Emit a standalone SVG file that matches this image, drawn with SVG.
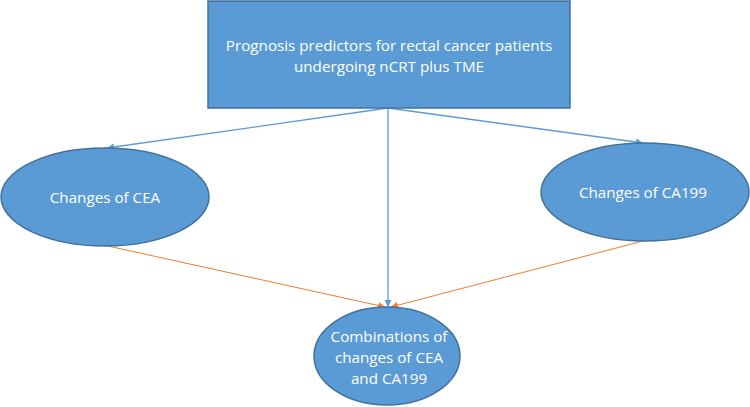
<svg xmlns="http://www.w3.org/2000/svg" width="750" height="407" viewBox="0 0 750 407">
<defs>
<style>
.node{fill:#5B9BD5;stroke:#41719C;stroke-width:1.5}
.t{fill:#fff;font-family:"Open Sans","Liberation Sans",sans-serif;font-size:15.2px;text-anchor:middle}
.b{stroke:#5B9BD5;stroke-width:1.3;fill:none}
.o{stroke:#ED7D31;stroke-width:1;fill:none}
</style>
<marker id="ab" markerWidth="8" markerHeight="8" refX="7" refY="4" orient="auto" markerUnits="userSpaceOnUse"><path d="M0,0.5 L7,4 L0,7.5 Z" fill="#5B9BD5"/></marker>
<marker id="ao" markerWidth="8" markerHeight="8" refX="7" refY="4" orient="auto" markerUnits="userSpaceOnUse"><path d="M0,0.5 L7,4 L0,7.5 Z" fill="#ED7D31"/></marker>
</defs>
<g id="connectors">
<line class="b" x1="388" y1="108" x2="107" y2="148" marker-end="url(#ab)"/>
<line class="b" x1="388" y1="108" x2="388" y2="307" marker-end="url(#ab)"/>
<line class="b" x1="388" y1="108" x2="643" y2="143" marker-end="url(#ab)"/>
<line class="o" x1="108" y1="246" x2="385" y2="307" marker-end="url(#ao)"/>
<line class="o" x1="643" y1="241" x2="391" y2="307" marker-end="url(#ao)"/>
</g>
<g id="top">
<rect class="node" x="208" y="1" width="362" height="107"/>
<text class="t" x="389" y="51">Prognosis predictors for rectal cancer patients</text>
<text class="t" x="389" y="72">undergoing nCRT plus TME</text>
</g>
<g id="cea">
<ellipse class="node" cx="105" cy="197" rx="104" ry="49"/>
<text class="t" x="105" y="203">Changes of CEA</text>
</g>
<g id="ca199">
<ellipse class="node" cx="645" cy="192" rx="104" ry="49"/>
<text class="t" x="643" y="198">Changes of CA199</text>
</g>
<g id="combo">
<ellipse class="node" cx="387" cy="356" rx="73" ry="49"/>
<text class="t" x="389" y="342">Combinations of</text>
<text class="t" x="389" y="363">changes of CEA</text>
<text class="t" x="389" y="384">and CA199</text>
</g>
</svg>
